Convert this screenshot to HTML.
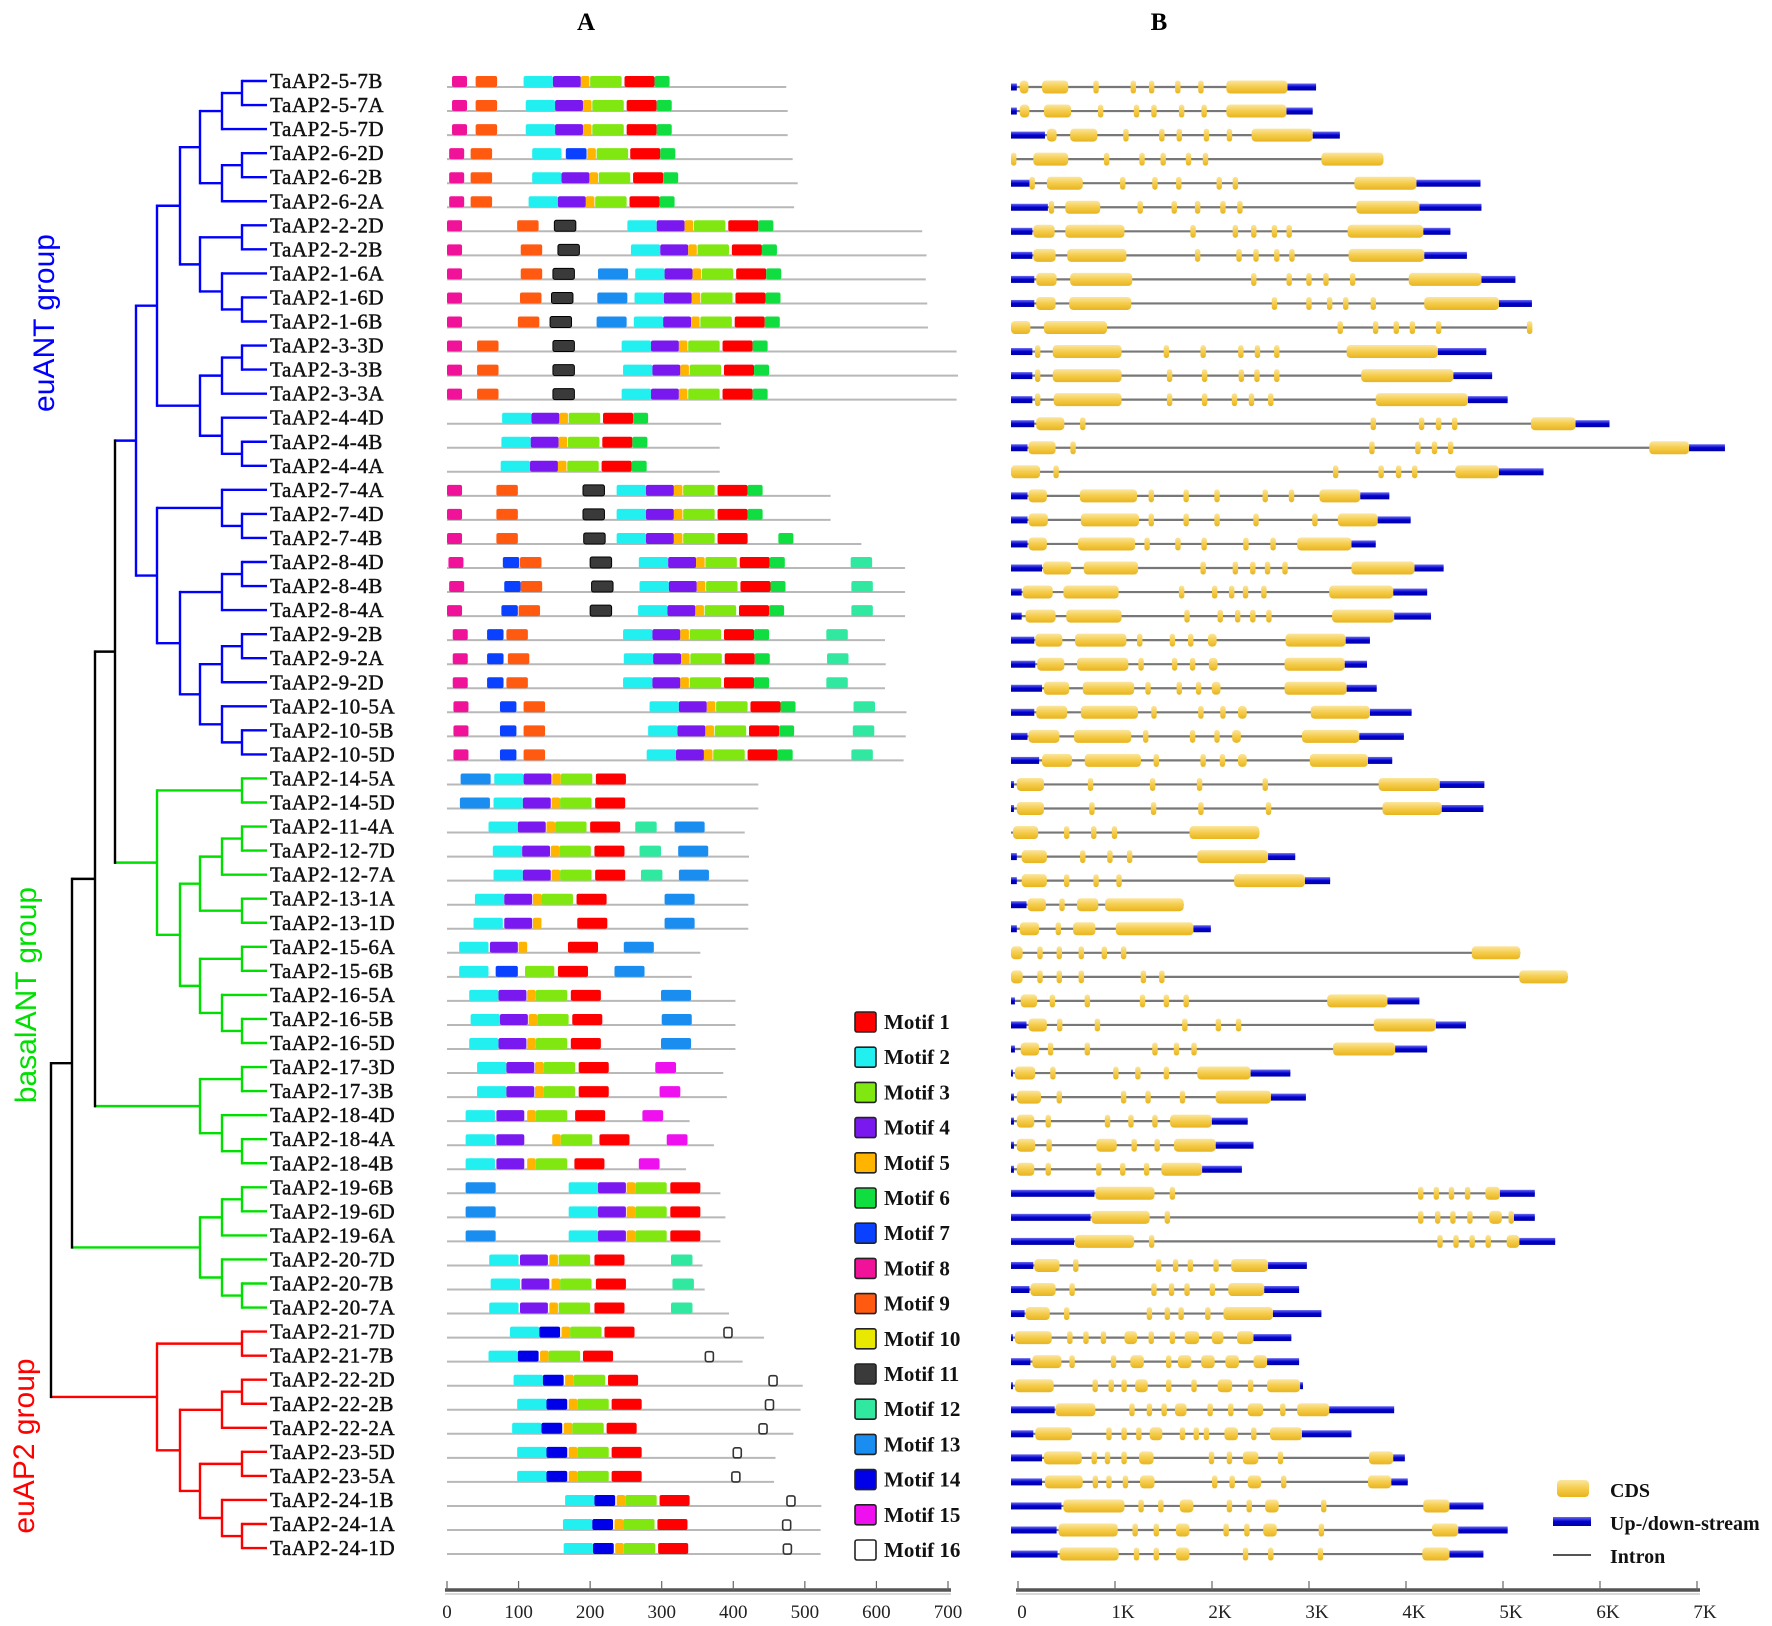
<!DOCTYPE html>
<html><head><meta charset="utf-8"><title>TaAP2 motifs and gene structures</title>
<style>
html,body{margin:0;padding:0;background:#fff;}
svg{display:block;}
text{font-family:"Liberation Serif",serif;}
</style></head>
<body>
<svg id="fig" width="1772" height="1626" viewBox="0 0 1772 1626" xmlns="http://www.w3.org/2000/svg">
<defs>
<linearGradient id="cdsg" x1="0" y1="0" x2="0" y2="1"><stop offset="0" stop-color="#fbe6a0"/><stop offset="0.5" stop-color="#f5cc4a"/><stop offset="1" stop-color="#e8b420"/></linearGradient>
<linearGradient id="upg" x1="0" y1="0" x2="0" y2="1"><stop offset="0" stop-color="#6a6af0"/><stop offset="0.5" stop-color="#0000d0"/><stop offset="1" stop-color="#0000a0"/></linearGradient>
</defs>
<text x="586" y="30" font-size="25" font-weight="bold" text-anchor="middle">A</text>
<text x="1159" y="30" font-size="25" font-weight="bold" text-anchor="middle">B</text>
<g id="tree"></g>
<g id="labels"></g>
<g id="motifs"></g>
<g id="genes"></g>
<g id="axes"></g>
<g id="legendA"></g>
<g id="legendB"></g>
<text transform="translate(54,323) rotate(-90)" font-size="30" fill="#0000ff" text-anchor="middle" style="font-family:'Liberation Sans',sans-serif">euANT  group</text>
<text transform="translate(36,995) rotate(-90)" font-size="30" fill="#00e000" text-anchor="middle" style="font-family:'Liberation Sans',sans-serif">basalANT  group</text>
<text transform="translate(34,1446) rotate(-90)" font-size="30" fill="#ff0000" text-anchor="middle" style="font-family:'Liberation Sans',sans-serif">euAP2  group</text>
</svg>
<script>
const geneNames = ["TaAP2-5-7B","TaAP2-5-7A","TaAP2-5-7D","TaAP2-6-2D","TaAP2-6-2B","TaAP2-6-2A","TaAP2-2-2D","TaAP2-2-2B","TaAP2-1-6A","TaAP2-1-6D","TaAP2-1-6B","TaAP2-3-3D","TaAP2-3-3B","TaAP2-3-3A","TaAP2-4-4D","TaAP2-4-4B","TaAP2-4-4A","TaAP2-7-4A","TaAP2-7-4D","TaAP2-7-4B","TaAP2-8-4D","TaAP2-8-4B","TaAP2-8-4A","TaAP2-9-2B","TaAP2-9-2A","TaAP2-9-2D","TaAP2-10-5A","TaAP2-10-5B","TaAP2-10-5D","TaAP2-14-5A","TaAP2-14-5D","TaAP2-11-4A","TaAP2-12-7D","TaAP2-12-7A","TaAP2-13-1A","TaAP2-13-1D","TaAP2-15-6A","TaAP2-15-6B","TaAP2-16-5A","TaAP2-16-5B","TaAP2-16-5D","TaAP2-17-3D","TaAP2-17-3B","TaAP2-18-4D","TaAP2-18-4A","TaAP2-18-4B","TaAP2-19-6B","TaAP2-19-6D","TaAP2-19-6A","TaAP2-20-7D","TaAP2-20-7B","TaAP2-20-7A","TaAP2-21-7D","TaAP2-21-7B","TaAP2-22-2D","TaAP2-22-2B","TaAP2-22-2A","TaAP2-23-5D","TaAP2-23-5A","TaAP2-24-1B","TaAP2-24-1A","TaAP2-24-1D"];
const proteinLengths = [474,476,476,483,490,485,664,670,669,671,672,712,714,712,383,381,381,536,536,579,640,640,640,612,613,612,642,641,638,435,435,416,422,421,421,421,354,342,403,403,403,386,391,339,373,334,382,389,382,357,360,394,443,413,497,494,484,459,457,523,522,522];
const motifLayout = ["8:7 9:40 E:107","8:7 9:40 E:110","8:7 9:40 E:110","8:3 9:33 2:119 7:166:29 5:196 3:209 1:256 6:298","8:3 9:33 E:119","8:3 9:33 E:114","8:0 9:98 11:150 E:252","8:0 9:103 11:155 E:257","8:0 9:103 11:148 13:211 E:263","8:0 9:102 11:146 13:210 E:262","8:0 9:99 11:144 13:209 E:261","8:0 9:42 11:148 E:244","8:0 9:42 11:148 E:246","8:0 9:42 11:148 E:244","E:77","E:76","E:75","8:0 9:69 11:190 E:237","8:0 9:69 11:190 E:237","8:0 9:69 11:191 2:237 4:278 5:317 3:330 1:378 6:463","8:2 7:78 9:102 11:200 E:268 12:564","8:3 7:80 9:103 11:202 E:269 12:565","8:0 7:76 9:100 11:200 E:267 12:565","8:8 7:56 9:83 E:246 12:530","8:8 7:56 9:85 E:247 12:531","8:8 7:56 9:83 E:246 12:530","8:9 7:74 9:107 E:283 12:568","8:9 7:74 9:107 E:281 12:567","8:9 7:74 9:107 E:279 12:565","13:19 B:66","13:18 B:65","B:58 12:263 13:318","B:64 12:269 13:323","B:65 12:271 13:324","B:39 13:304","2:37 4:80 5:120 1:182 13:304","2:17 4:60 5:100 1:169 13:247","2:17 7:68:31 3:109:41 1:155 13:234","B:31 13:299","B:33 13:300","B:31 13:299","B:42 15:291","B:42 15:297","2:26 4:69 5:112 3:124 1:179 15:273","2:26 4:69 5:147 3:159 1:213 15:307","2:26 4:69 5:112 3:124 1:178 15:268","13:26 B:170","13:26 B:170","13:26 B:170","2:59 4:102 5:143 3:156 1:206 12:313","2:61 4:104 5:146 3:158 1:208 12:315","2:59 4:102 5:143 3:156 1:206 12:313","P:88 16:387","P:58 16:361","P:93 16:450","P:98 16:445","P:91 16:436","P:98 16:400","P:98 16:398","P:165 16:475","P:162 16:469","P:163 16:470"];
const geneLayout = ["60|90-180,320-590,877,1261,1450,1720,1958,2220-2850|3145","60|90-190,340-620,924,1294,1474,1759,1991,2220-2840|3110","350|370-470,610-890,1185,1555,1735,2015,2252,2480-3110|3390","0|28,230-590,986,1351,1569,1830,2005,3200-3840|3840","200|218,370-740,1152,1484,1730,2147,2313,3540-4180|4840","380|417,560-920,1332,1683,1924,2185,2360,3560-4210|4850","220|230-450,560-1170,1877,2313,2503,2716,2868,3470-4250|4530","220|230-460,580-1190,1924,2351,2526,2740,2896,3480-4260|4700","240|260-470,610-1250,2503,2868,3072,3247,3522,4100-4850|5200","240|260-460,600-1240,2716,3072,3285,3451,3735,4260-5030|5370","0|0-200,340-990,3394,3759,3972,4138,4408,5347|5370","220|275,430-1140,1602,1981,2370,2541,2740,3460-4400|4900","220|275,430-1140,1635,1996,2375,2536,2740,3610-4560|4960","220|275,440-1140,1635,1996,2304,2479,2678,3760-4710|5120","240|260-550,740,3735,4233,4408,4574,5360-5820|6170","170|180-460,640,3721,4195,4366,4532,6580-6990|7360","0|0-300,465,3347,3816,3996,4162,4580-5030|5490","170|180-370,710-1300,1446,1806,2124,2621,2892,3180-3600|3900","170|180-380,720-1320,1446,1806,2124,2526,3133,3370-3780|4120","170|180-370,690-1280,1403,1721,1991,2422,2702,2950-3510|3760","320|330-620,750-1310,1981,2313,2493,2645,2825,3510-4160|4460","110|120-430,540-1110,1759,2100,2275,2418,2607,3280-3940|4290","110|150-460,570-1140,1815,2157,2337,2493,2659,3310-3950|4330","240|250-530,660-1190,1327,1664,1853,2030-2120,2830-3450|3700","250|270-550,680-1210,1341,1687,1872,2040-2130,2820-3440|3670","320|340-600,740-1270,1413,1735,1934,2070-2160,2820-3460|3770","240|260-580,720-1310,1474,1958,2185,2340-2430,3090-3700|4130","170|180-500,650-1240,1389,1872,2124,2280-2370,3000-3590|4050","290|320-630,760-1340,1498,1981,2180,2340-2430,3080-3680|3930","30|60-340,820,1460,1944,2621,3790-4420|4880","30|60-340,834,1470,1958,2655,3830-4440|4870","0|20-280,574,853,1067,1840-2560|2560","60|110-370,740,1020,1223,1920-2650|2930","60|110-370,574,877,1114,2300-3030|3290","160|170-360,526,680-900,970-1780|1780","60|90-290,488,640-870,1080-1880|2060","0|0-120,299,498,725,962,1161,4750-5250|5250","0|0-120,299,498,725,1365,1555,5240-5740|5740","40|100-270,427,787,1356,1602,1806,3260-3880|4210","160|180-370,502,891,1792,2138,2346,3740-4380|4690","40|100-290,408,787,1484,1706,1887,3320-3960|4290","20|40-250,432,1081,1308,1602,1920-2470|2880","30|60-310,498,1161,1413,1768,2110-2680|3040","30|60-240,384,995,1237,1484,1640-2070|2440","30|60-250,393,880-1090,1270,1507,1680-2110|2500","30|60-240,384,905,1152,1398,1550-1970|2380","860|870-1480,1664,4224,4385,4541,4707,4890-5040|5400","820|830-1430,1612,4224,4399,4556,4731,4930-5060,5157|5400","650|660-1270,1450,4423,4588,4754,4920,5110-5240|5610","230|240-500,668,1522,1697,1849,2114,2270-2650|3050","190|200-460,630,1474,1655,1815,2076,2240-2610|2970","140|150-400,574,1427,1612,1754,2029,2190-2700|3200","20|40-420,607,773,953,1170-1300,1446,1664,1790-1940,2070-2190,2330-2500|2890","200|220-520,630,1057,1230-1370,1626,1720-1860,1960-2100,2210-2350,2500-2640|2970","20|40-440,868,1033,1166,1280-1410,1626,1887,2130-2280,2470,2640-2980|3010","450|460-870,1247,1427,1579,1690-1810,2053,2266,2440-2600,2802,2950-3280|3950","230|250-630,1010,1166,1318,1430-1560,1768,1910,2015,2200-2340,2503,2670-3000|3510","320|340-730,858,995,1166,1320-1470,2067,2252,2390-2550,2778,3690-3940|4060","320|350-740,870,1010,1180,1330-1480,2100,2280,2440-2580,2811,3680-3920|4090","520|540-1170,1341,1545,1740-1880,2252,2456,2620-2760,3224,4250-4520|4870","470|490-1100,1280,1498,1700-1840,2218,2432,2600-2740,3200,4340-4610|5120","480|500-1110,1294,1498,1700-1840,2418,2678,3190,4240-4520|4870"];
const aaTicks = [0,100,200,300,400,500,600,700];
const bpTicks = [0,1000,2000,3000,4000,5000,6000,7000];
const bpTickLabels = ["0","1K","2K","3K","4K","5K","6K","7K"];
const motifIds = [1,2,3,4,5,6,7,8,9,10,11,12,13,14,15,16];
const motifColors = {1:"#ff0000",2:"#22f0f0",3:"#80e810",4:"#7a18f0",5:"#ffb400",6:"#10dd40",7:"#0a40ff",8:"#f0139a",9:"#ff5a10",10:"#e8e800",11:"#3a3a3a",12:"#30e8a0",13:"#1a8ef0",14:"#0000e8",15:"#ee10ee",16:"#ffffff"};
const motifWidths = {1:42,2:41,3:44,4:39,5:12,6:21,7:23,8:21,9:30,10:20,11:30,12:30,13:42,14:29,15:29,16:11};
const coreE = [[2,0],[4,41],[5,80],[3,93],[1,141],[6,183]];
const coreB = [[2,0],[4,41],[5,81],[3,93],[1,142]];
const coreP = [[2,0],[14,41],[5,72],[3,84],[1,132]];
const E1 = [157,'B',[180,'B',[200,'B',[222,'B',[242,'B',0,1],2],[222,'B',[242,'B',3,4],5]],[200,'B',[242,'B',6,7],[222,'B',8,[242,'B',9,10]]]],[200,'B',[222,'B',[242,'B',11,12],13],[222,'B',14,[242,'B',15,16]]]];
const E2 = [157,'B',[222,'B',17,[242,'B',18,19]],[180,'B',[222,'B',[242,'B',20,21],22],[200,'B',[222,'B',[242,'B',23,24],25],[222,'B',26,[242,'B',27,28]]]]];
const tree = [51,'K',[72,'K',[95,'K',[115,'K',[136,'B',E1,E2],[157,'G',[242,'G',29,30],[180,'G',[200,'G',[222,'G',[242,'G',31,32],33],[242,'G',34,35]],[200,'G',[242,'G',36,37],[222,'G',38,[242,'G',39,40]]]]]],[200,'G',[242,'G',41,42],[222,'G',43,[242,'G',44,45]]]],[200,'G',[222,'G',[242,'G',46,47],48],[222,'G',49,[242,'G',50,51]]]],[157,'R',[242,'R',52,53],[180,'R',[222,'R',[242,'R',54,55],56],[200,'R',[242,'R',57,58],[222,'R',59,[242,'R',60,61]]]]]];

const NS = "http://www.w3.org/2000/svg";
function mk(tag, attrs, parent){const e=document.createElementNS(NS,tag);for(const k in attrs)e.setAttribute(k,attrs[k]);parent.appendChild(e);return e;}
const rowY = i => 87 + 24.05*i;
const xAA = aa => 447 + aa*0.7157;
const xBP = bp => 1011 + bp*0.0970;
const xAxB = bp => 1018 + bp*0.0970;
const colorMap = {K:"#000000",B:"#0000ff",G:"#00e000",R:"#ff0000"};

const gT = document.getElementById('tree');
const TIP = 267;
function drawNode(n){
  if(typeof n === 'number') return rowY(n)-6;
  const x=n[0], col=colorMap[n[1]];
  const ys=[];
  for(let k=2;k<n.length;k++){
    const ch=n[k];
    const cy=drawNode(ch);
    ys.push(cy);
    const cx = typeof ch==='number'?TIP:ch[0];
    const ccol = typeof ch==='number'?col:colorMap[ch[1]];
    const h=mk('line',{x1:x,y1:cy,x2:cx,y2:cy,stroke:ccol,'stroke-width':2.4},gT);
    
    
  }
  const v=mk('line',{x1:x,y1:Math.min(...ys),x2:x,y2:Math.max(...ys),stroke:col,'stroke-width':2.4,'stroke-linecap':'square'},gT);
  
  
  return (Math.min(...ys)+Math.max(...ys))/2;
}
drawNode(tree);

const gL=document.getElementById('labels');
geneNames.forEach((nm,i)=>{
  const t=mk('text',{x:270,y:rowY(i)+1,'font-size':21,'letter-spacing':0.6,fill:'#111',stroke:'#111','stroke-width':0.45},gL);
  t.textContent=nm;
  
  
});

const gM=document.getElementById('motifs');
function parseMotifs(s){
  const out=[];
  s.split(' ').forEach(tok=>{
    const p=tok.split(':');
    if(p[0]==='E'||p[0]==='B'||p[0]==='P'){
      const c=+p[1];
      const core=p[0]==='E'?coreE:(p[0]==='B'?coreB:coreP);
      core.forEach(([m,o])=>out.push([m,c+o,motifWidths[m]]));
    } else {
      const m=+p[0];
      out.push([m,+p[1],p[2]?+p[2]:motifWidths[m]]);
    }
  });
  return out;
}
motifLayout.forEach((s,i)=>{
  const y=rowY(i);
  const ln=mk('line',{x1:xAA(0),y1:y,x2:xAA(proteinLengths[i]),y2:y,stroke:'#b8b8b8','stroke-width':2},gM);
  
  
  parseMotifs(s).forEach(([m,st,w])=>{
    let x=xAA(st), wd=w*0.7157, h=11, yy=y-11;
    let attrs={x:x,y:yy,width:wd,height:h,rx:2,fill:motifColors[m]};
    if(m===16){attrs={x:x,y:y-10,width:8,height:10,rx:2,fill:'#fff',stroke:'#333','stroke-width':1.6};}
    if(m===11){attrs.stroke='#000';attrs['stroke-width']=1;}
    const r=mk('rect',attrs,gM);
    
    
  });
});

const gG=document.getElementById('genes');
geneLayout.forEach((s,i)=>{
  const y=rowY(i);
  const [u,ex,e]=s.split('|');
  const up=+u, end=+e;
  const il=mk('line',{x1:xBP(0),y1:y,x2:xBP(end),y2:y,stroke:'#777','stroke-width':2.2},gG);
  
  
  const exons=ex.split(',').map(t=>t.includes('-')?t.split('-').map(Number):[+t-28,+t+28]);
  const lastEnd=exons[exons.length-1][1];
  if(up>0){
    const b=mk('rect',{x:xBP(0),y:y-3.5,width:xBP(up)-xBP(0),height:7,fill:'url(#upg)'},gG);
    
    
  }
  if(end>lastEnd+10){
    const b=mk('rect',{x:xBP(lastEnd),y:y-3.5,width:xBP(end)-xBP(lastEnd),height:7,fill:'url(#upg)'},gG);
    
    
  }
  exons.forEach(([a,b2])=>{
    const w=Math.max(xBP(b2)-xBP(a),5);
    const r=mk('rect',{x:xBP(a),y:y-6.5,width:w,height:13,rx:Math.min(4,w/2),fill:'url(#cdsg)'},gG);
    
    
  });
});

const gA=document.getElementById('axes');
const AY=1590;
mk('line',{x1:xAA(0)-2,y1:AY,x2:xAA(700)+3,y2:AY,stroke:'#555','stroke-width':3.5},gA);
mk('line',{x1:xAA(0)-2,y1:AY+4,x2:xAA(700)+3,y2:AY+4,stroke:'#ccc','stroke-width':1.5},gA);
aaTicks.forEach(v=>{
  const tk=mk('line',{x1:xAA(v),y1:AY-9,x2:xAA(v),y2:AY,stroke:'#666','stroke-width':1.2},gA);
  
  
  const t=mk('text',{x:xAA(v),y:AY+28,'font-size':19,'text-anchor':'middle',fill:'#222'},gA);
  t.textContent=String(v);
  
  
});
mk('line',{x1:xAxB(0)-2,y1:AY,x2:xAxB(7000)+3,y2:AY,stroke:'#555','stroke-width':3.5},gA);
mk('line',{x1:xAxB(0)-2,y1:AY+4,x2:xAxB(7000)+3,y2:AY+4,stroke:'#ccc','stroke-width':1.5},gA);
bpTicks.forEach((v,k)=>{
  const tk=mk('line',{x1:xAxB(v),y1:AY-9,x2:xAxB(v),y2:AY,stroke:'#666','stroke-width':1.2},gA);
  
  
  const t=mk('text',{x:xAxB(v)+(k===0?4:8),y:AY+28,'font-size':19,'text-anchor':'middle',fill:'#222'},gA);
  t.textContent=bpTickLabels[k];
  
  
});

const gLA=document.getElementById('legendA');
motifIds.forEach((m,k)=>{
  const cy=1022+k*35.2;
  const r=mk('rect',{x:855,y:cy-10,width:21,height:20,rx:2,fill:motifColors[m],stroke:'#222','stroke-width':1.6},gLA);
  
  
  const t=mk('text',{x:884,y:cy+7,'font-size':21,'font-weight':'bold',fill:'#111'},gLA);
  t.textContent='Motif '+m;
  
  
});

const gLB=document.getElementById('legendB');
const c1=mk('rect',{x:1557,y:1480,width:32,height:17,rx:4,fill:'url(#cdsg)'},gLB);


const t1=mk('text',{x:1610,y:1497,'font-size':20,'font-weight':'bold',fill:'#111'},gLB);
t1.textContent='CDS';


const c2=mk('rect',{x:1553,y:1517,width:38,height:9,fill:'url(#upg)'},gLB);


const t2=mk('text',{x:1610,y:1530,'font-size':20,'font-weight':'bold',fill:'#111'},gLB);
t2.textContent='Up-/down-stream';


const c3=mk('line',{x1:1553,y1:1555,x2:1591,y2:1555,stroke:'#555','stroke-width':2},gLB);


const t3=mk('text',{x:1610,y:1563,'font-size':20,'font-weight':'bold',fill:'#111'},gLB);
t3.textContent='Intron';


</script>
</body></html>
